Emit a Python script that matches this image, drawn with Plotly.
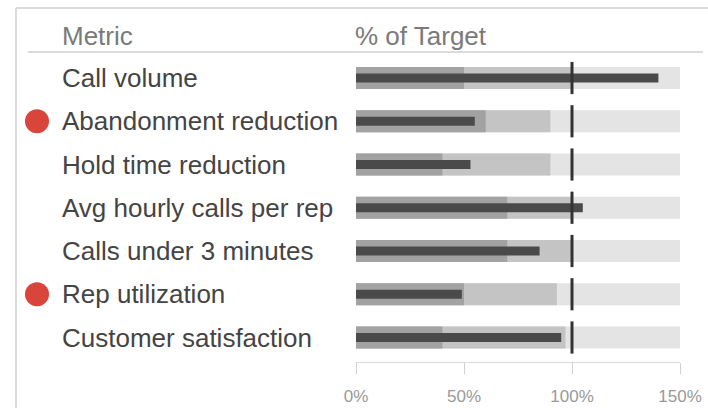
import plotly.graph_objects as go

# Bullet chart data (% of target)
metrics = [
    "Call volume",
    "Abandonment reduction",
    "Hold time reduction",
    "Avg hourly calls per rep",
    "Calls under 3 minutes",
    "Rep utilization",
    "Customer satisfaction",
]
poor_band = [50, 60, 40, 70, 70, 50, 40]
ok_band = [100, 90, 90, 100, 100, 93, 97]
good_band = [150, 150, 150, 150, 150, 150, 150]
actual = [140, 55, 53, 105, 85, 49, 95]
target = [100, 100, 100, 100, 100, 100, 100]
flagged = [False, True, False, False, False, True, False]
tick_values = [0, 50, 100, 150]
tick_labels = ["0%", "50%", "100%", "150%"]

W, H = 708, 408
FONT = "Liberation Sans, Arial, sans-serif"

# Pixel layout of the plotting area
x0_px, x1_px = 356, 680
axis_px = 362
row0_px, row_step = 78, 43.25

rows = list(range(len(metrics)))
units = axis_px / row_step
y_top = -row0_px / row_step
y_bottom = y_top + units

band_w = 22 / row_step
bar_w = 9 / row_step

fig = go.Figure()

for vals, color in [(good_band, "#e4e4e4"), (ok_band, "#c4c4c4"), (poor_band, "#a2a2a2")]:
    fig.add_trace(go.Bar(
        x=vals, y=rows, base=0, orientation="h", width=band_w,
        marker=dict(color=color, line=dict(width=0)), hoverinfo="skip",
    ))

fig.add_trace(go.Bar(
    x=actual, y=rows, base=0, orientation="h", width=bar_w,
    marker=dict(color="#4a4a4a", line=dict(width=0)), name="Actual",
))

fig.add_trace(go.Scatter(
    x=target, y=rows, mode="markers",
    marker=dict(symbol="line-ns", size=23, line=dict(width=3, color="#333333")),
    name="Target",
))

# Red flags beside off-track metrics
flag_rows = [r for r, f in zip(rows, flagged) if f]
fig.add_trace(go.Scatter(
    x=[0.5] * len(flag_rows), y=flag_rows, mode="markers",
    marker=dict(size=24, color="#d9443b"), xaxis="x2", yaxis="y",
    cliponaxis=False, name="Flag",
))

for r, name in zip(rows, metrics):
    fig.add_annotation(
        x=60 / W, xref="paper", y=r, yref="y", text=name, showarrow=False,
        xanchor="left", yanchor="middle",
        font=dict(family=FONT, size=26, color="#444444"),
    )

# Column headers
header_y = 1 - 36 / H
fig.add_annotation(x=60 / W, y=header_y, xref="paper", yref="paper", text="Metric",
                   showarrow=False, xanchor="left", yanchor="middle",
                   font=dict(family=FONT, size=26, color="#7a7a7a"))
fig.add_annotation(x=353 / W, y=header_y, xref="paper", yref="paper", text="% of Target",
                   showarrow=False, xanchor="left", yanchor="middle",
                   font=dict(family=FONT, size=26, color="#7a7a7a"))

# Frame and header rule
fig.add_shape(type="line", xref="paper", yref="paper", x0=16 / W, x1=1, y0=1 - 8 / H, y1=1 - 8 / H,
              line=dict(color="#d0d0d0", width=1.5))
fig.add_shape(type="line", xref="paper", yref="paper", x0=16 / W, x1=16 / W, y0=0, y1=1 - 8 / H,
              line=dict(color="#d0d0d0", width=1.5))
fig.add_shape(type="line", xref="paper", yref="paper", x0=28 / W, x1=703 / W, y0=1 - 52 / H, y1=1 - 52 / H,
              line=dict(color="#cfcfcf", width=1.5))

fig.update_layout(
    width=W, height=H,
    margin=dict(l=0, r=0, t=0, b=0, autoexpand=False),
    paper_bgcolor="white", plot_bgcolor="rgba(0,0,0,0)",
    barmode="overlay", showlegend=False,
    xaxis=dict(
        domain=[x0_px / W, x1_px / W], range=[0, 150], automargin=False,
        tickvals=tick_values, ticktext=tick_labels,
        ticks="outside", ticklen=11, tickwidth=1, tickcolor="#d0d0d0",
        showline=True, linecolor="#dadada", linewidth=1,
        showgrid=False, zeroline=False, ticklabelstandoff=8,
        tickfont=dict(family=FONT, size=17, color="#999999"),
        fixedrange=True,
    ),
    xaxis2=dict(domain=[0, 74 / W], range=[0, 1], visible=False, anchor="y",
                automargin=False, fixedrange=True),
    yaxis=dict(
        domain=[(H - axis_px) / H, 1], range=[y_bottom, y_top],
        visible=False, automargin=False, fixedrange=True,
    ),
)

fig.write_html("out.html")
